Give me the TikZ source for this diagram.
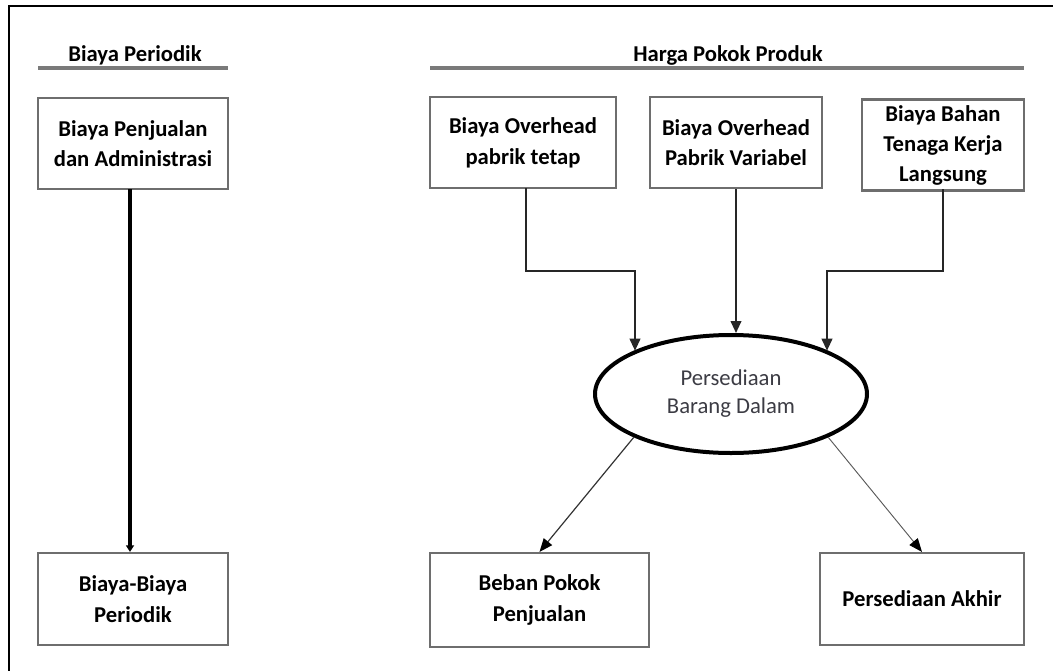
\documentclass[tikz,border=0pt]{standalone}
\usepackage{fontspec}
\setmainfont{Carlito}
\usetikzlibrary{shapes.geometric,arrows.meta}
\definecolor{boxgrey}{HTML}{6E6E6E}
\definecolor{linegrey}{HTML}{7A7A7A}
\definecolor{elltext}{HTML}{3C3C44}
\tikzset{
  stepbox/.style={draw=boxgrey, line width=1.6pt, fill=white, inner sep=2pt, align=center,
     font=\fontsize{17}{23}\selectfont\bfseries},
  title/.style={font=\fontsize{17}{23}\selectfont\bfseries, inner sep=0pt},
  uline/.style={draw=linegrey, line width=2.4pt},
  arr/.style={draw=black!85, line width=1.4pt, -{Triangle[length=9pt,width=8pt]}},
  diag/.style={draw=black!80, line width=0.9pt, -{Triangle[length=10pt,width=8pt,color=black]}},
}
\begin{document}
\begin{tikzpicture}[x=0.75pt,y=-0.75pt]
\useasboundingbox (0,0) rectangle (1053,671);
% frame
\draw[line width=1.6pt, black] (9,671) -- (9,6) -- (1053,6);
% titles
\node[title] (t1) at (135,55) {Biaya Periodik};
\node[title] (t2) at (728,55) {Harga Pokok Produk};
\draw[uline] (38,68) -- (228,68);
\draw[uline] (430,68) -- (1024,68);
% boxes
\node[stepbox, minimum width=142.5pt, minimum height=68.25pt] (pp) at (133,143.5) {Biaya Penjualan\\dan Administrasi};
\node[stepbox, minimum width=142.5pt, minimum height=69pt] (bb) at (133,599) {Biaya-Biaya\\Periodik};
\node[stepbox, minimum width=139.5pt, minimum height=68.25pt] (ov1) at (523,142.5) {Biaya Overhead\\pabrik tetap};
\node[stepbox, minimum width=129pt, minimum height=68.25pt] (ov2) at (736,142.5) {Biaya Overhead\\Pabrik Variabel};
\node[stepbox, minimum width=121.5pt, minimum height=68.25pt, inner sep=0pt, font=\fontsize{17}{22.5}\selectfont\bfseries] (bt) at (943,145) {Biaya Bahan\\Tenaga Kerja\\Langsung};
\node[stepbox, minimum width=164.25pt, minimum height=70.5pt] (beban) at (539.5,600) {Beban Pokok\\Penjualan};
\node[stepbox, minimum width=153pt, minimum height=69pt] (akhir) at (922,599) {Persediaan Akhir};
% ellipse
\node[ellipse, draw=black, line width=3pt, minimum width=204pt, minimum height=88.5pt, inner sep=0pt,
      align=center, text=elltext, font=\fontsize{17}{21}\selectfont] (ell) at (731,394) {Persediaan\\Barang Dalam};
% connectors
\coordinate (k1) at (635,271);
\coordinate (k3) at (827,271);
\coordinate (s1) at (526,188);
\coordinate (p1) at (130,189);
\draw[draw=black, line width=2.4pt, -{Triangle[length=5pt,width=6pt]}] (p1) -- (p1 |- bb.north);
\draw[arr] (s1) |- (k1) -- (k1 |- ell.156);
\draw[arr] (ov2.south) -- (ov2.south |- ell.north);
\draw[arr] (bt.south |- ov1.south) |- (k3) -- (k3 |- ell.24);
\draw[diag] (ell.204) -- (beban.north);
\draw[diag, draw=black!65, line width=0.7pt] (ell.336) -- (akhir.north);
\end{tikzpicture}
\end{document}
